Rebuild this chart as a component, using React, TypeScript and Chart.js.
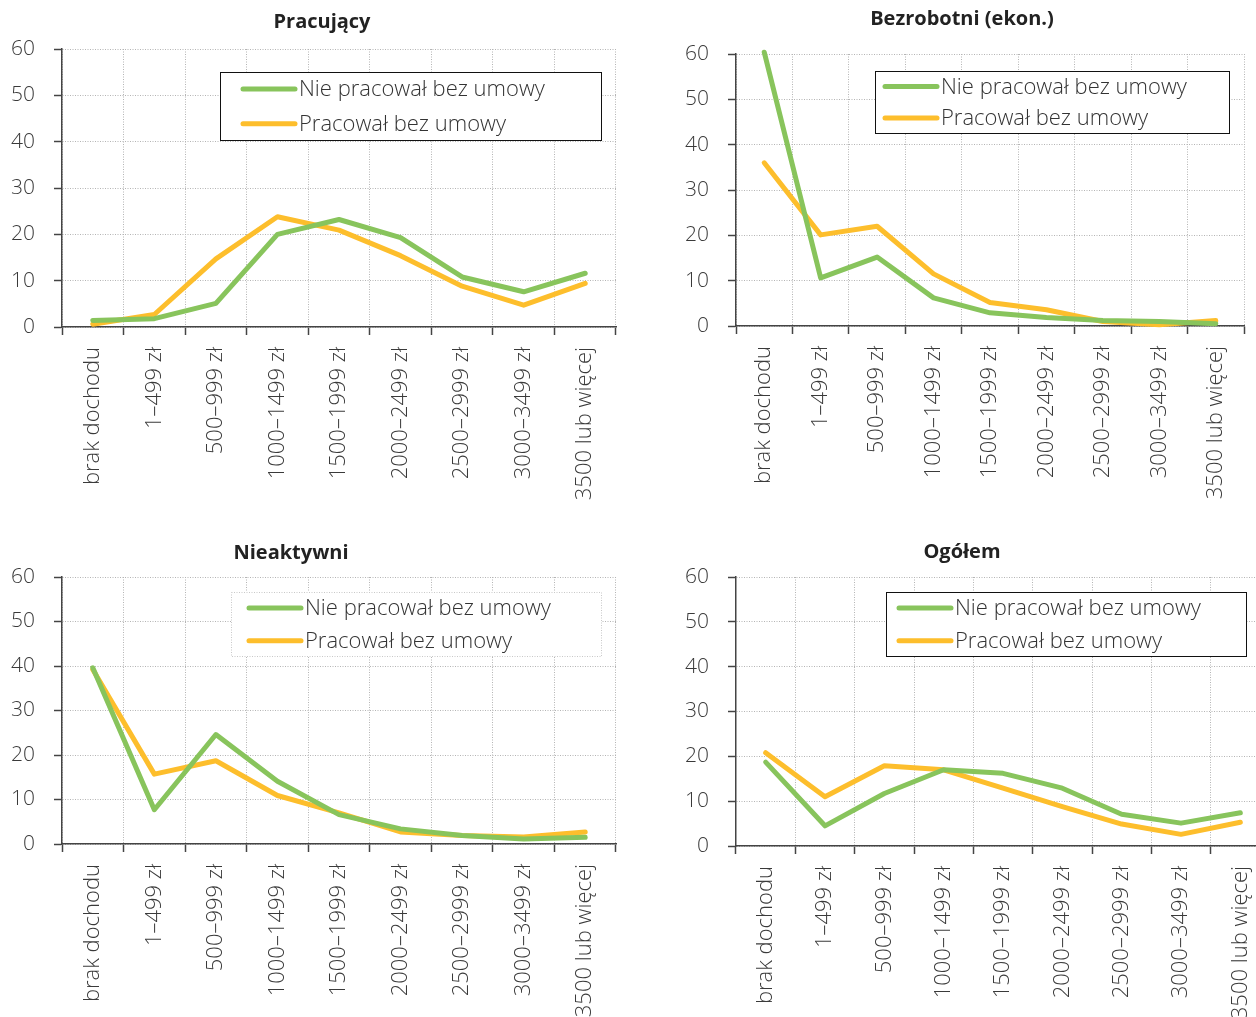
import React, { useEffect, useRef } from 'react';
import { Chart, registerables } from 'chart.js';

Chart.register(...registerables);

const categories = [
  'brak dochodu',
  '1–499 zł',
  '500–999 zł',
  '1000–1499 zł',
  '1500–1999 zł',
  '2000–2499 zł',
  '2500–2999 zł',
  '3000–3499 zł',
  '3500 lub więcej',
];
const seriesLabels = ['Nie pracował bez umowy', 'Pracował bez umowy'];
const seriesColors = ['#88C45C', '#FDBE2C'];
const yMin = 0;
const yMax = 60;
const yStep = 10;

const pracujacyNie = [1.4, 1.8, 5.1, 20.0, 23.2, 19.3, 10.8, 7.6, 11.6];
const pracujacyTak = [0.6, 2.7, 14.7, 23.8, 20.9, 15.4, 8.8, 4.7, 9.4];
const bezrobotniNie = [60.4, 10.6, 15.2, 6.2, 2.9, 1.9, 1.2, 1.0, 0.5];
const bezrobotniTak = [36.0, 20.1, 22.0, 11.5, 5.2, 3.6, 1.0, 0.3, 1.2];
const nieaktywniNie = [39.6, 7.7, 24.6, 14.1, 6.6, 3.4, 1.9, 1.1, 1.5];
const nieaktywniTak = [39.2, 15.7, 18.7, 10.9, 7.0, 2.7, 1.9, 1.6, 2.7];
const ogolemNie = [18.7, 4.5, 11.7, 17.0, 16.2, 12.9, 7.1, 5.1, 7.4];
const ogolemTak = [20.8, 11.0, 17.9, 17.0, 12.9, 8.8, 4.9, 2.6, 5.3];

const FONT = '"Open Sans", "Noto Sans", sans-serif';

type LegendCfg = { x: number; y: number; w: number; h: number; pad: number; dotted: boolean };
type PanelCfg = {
  title: string;
  nie: number[];
  tak: number[];
  left: number;
  top: number;
  width: number;
  height: number;
  axisLeft: number;
  plotTop: number;
  plotBottom: number;
  plotRight: number;
  titleX: number;
  titleY: number;
  legend: LegendCfg;
};

const panels: PanelCfg[] = [
  {
    title: 'Pracujący', nie: pracujacyNie, tak: pracujacyTak,
    left: 0, top: 0, width: 628, height: 515,
    axisLeft: 62, plotTop: 49, plotBottom: 327, plotRight: 616,
    titleX: 322, titleY: 22,
    legend: { x: 220, y: 72, w: 381, h: 68, pad: 21, dotted: false },
  },
  {
    title: 'Bezrobotni (ekon.)', nie: bezrobotniNie, tak: bezrobotniTak,
    left: 628, top: 0, width: 628, height: 515,
    axisLeft: 108, plotTop: 54, plotBottom: 326, plotRight: 616,
    titleX: 334, titleY: 19,
    legend: { x: 247, y: 71, w: 354, h: 62, pad: 8, dotted: false },
  },
  {
    title: 'Nieaktywni', nie: nieaktywniNie, tak: nieaktywniTak,
    left: 0, top: 530, width: 628, height: 487,
    axisLeft: 62, plotTop: 47, plotBottom: 314, plotRight: 616,
    titleX: 291, titleY: 23,
    legend: { x: 231, y: 62, w: 370, h: 64, pad: 16, dotted: true },
  },
  {
    title: 'Ogółem', nie: ogolemNie, tak: ogolemTak,
    left: 628, top: 530, width: 660, height: 487,
    axisLeft: 108, plotTop: 47, plotBottom: 316, plotRight: 642,
    titleX: 334, titleY: 22,
    legend: { x: 258, y: 62, w: 360, h: 64, pad: 11, dotted: false },
  },
];

const decorPlugin = {
  id: 'panelDecor',
  afterDraw(chart: any, _args: any, opts: any) {
    const ctx = chart.ctx as CanvasRenderingContext2D;
    ctx.save();
    // title
    ctx.fillStyle = '#222';
    ctx.font = `bold 20px ${FONT}`;
    ctx.textAlign = 'center';
    ctx.textBaseline = 'middle';
    ctx.fillText(opts.title, opts.titleX, opts.titleY);
    // legend
    const lg: LegendCfg = opts.legend;
    ctx.fillStyle = '#ffffff';
    ctx.fillRect(lg.x, lg.y, lg.w, lg.h);
    ctx.lineWidth = 1;
    if (lg.dotted) {
      ctx.strokeStyle = '#c8c8c8';
      ctx.setLineDash([1, 1.5]);
    } else {
      ctx.strokeStyle = '#111';
      ctx.setLineDash([]);
    }
    ctx.strokeRect(lg.x + 0.5, lg.y + 0.5, lg.w, lg.h);
    ctx.setLineDash([]);
    const rows = [lg.y + lg.h * 0.25, lg.y + lg.h * 0.76];
    chart.data.datasets.forEach((ds: any, i: number) => {
      const yy = rows[i];
      const x1 = lg.x + lg.pad + 2;
      const x2 = x1 + 52;
      ctx.strokeStyle = ds.borderColor;
      ctx.lineWidth = 5;
      ctx.lineCap = 'round';
      ctx.beginPath();
      ctx.moveTo(x1, yy);
      ctx.lineTo(x2, yy);
      ctx.stroke();
      ctx.fillStyle = '#333';
      ctx.font = `300 22px ${FONT}`;
      ctx.textAlign = 'left';
      ctx.textBaseline = 'middle';
      ctx.fillText(ds.label, x2 + 4, yy + 1);
    });
    ctx.restore();
  },
};

function Panel({ cfg }: { cfg: PanelCfg }) {
  const ref = useRef<HTMLCanvasElement | null>(null);
  useEffect(() => {
    if (!ref.current) return;
    const chart = new Chart(ref.current, {
      type: 'line',
      data: {
        labels: categories,
        datasets: [
          {
            label: seriesLabels[0], data: cfg.nie, borderColor: seriesColors[0],
            backgroundColor: seriesColors[0], borderWidth: 5, pointRadius: 0,
            tension: 0, clip: false as any, borderCapStyle: 'round', borderJoinStyle: 'round',
          },
          {
            label: seriesLabels[1], data: cfg.tak, borderColor: seriesColors[1],
            backgroundColor: seriesColors[1], borderWidth: 5, pointRadius: 0,
            tension: 0, clip: false as any, borderCapStyle: 'round', borderJoinStyle: 'round',
          },
        ],
      },
      options: {
        responsive: false,
        animation: false,
        devicePixelRatio: 1,
        layout: {
          padding: { left: 0, top: cfg.plotTop, right: cfg.width - cfg.plotRight, bottom: 0 },
        },
        plugins: {
          legend: { display: false },
          title: { display: false },
          tooltip: { enabled: false },
          panelDecor: {
            title: cfg.title, titleX: cfg.titleX, titleY: cfg.titleY, legend: cfg.legend,
          },
        } as any,
        scales: {
          x: {
            type: 'category',
            offset: true,
            grid: {
              offset: true,
              color: '#b4b4b4',
              lineWidth: 1,
              drawTicks: true,
              tickLength: 8,
              tickColor: '#444',
              tickWidth: 1.5,
              tickBorderDash: [],
            } as any,
            border: { display: true, color: '#444', width: 1.5, dash: [1, 1.5] } as any,
            ticks: {
              minRotation: 90,
              maxRotation: 90,
              autoSkip: false,
              padding: 12,
              color: '#3a3a3a',
              font: { family: FONT, size: 22, weight: '300' },
            },
            afterFit: (scale: any) => {
              scale.height = cfg.height - cfg.plotBottom;
            },
          },
          y: {
            min: yMin,
            max: yMax,
            grid: {
              color: '#b4b4b4',
              lineWidth: 1,
              drawTicks: true,
              tickLength: 8,
              tickColor: '#444',
              tickWidth: 1.5,
              tickBorderDash: [],
            } as any,
            border: { display: true, color: '#444', width: 1.5, dash: [1, 1.5] } as any,
            ticks: {
              stepSize: yStep,
              padding: 19,
              color: '#3a3a3a',
              font: { family: FONT, size: 21, weight: '300' },
            },
            afterFit: (scale: any) => {
              scale.width = cfg.axisLeft;
            },
          },
        },
      },
      plugins: [decorPlugin],
    } as any);
    return () => chart.destroy();
  }, [cfg]);
  return (
    <canvas
      ref={ref}
      width={cfg.width}
      height={cfg.height}
      style={{ position: 'absolute', left: cfg.left, top: cfg.top, width: cfg.width, height: cfg.height }}
    />
  );
}

export default function App() {
  return (
    <div
      style={{
        position: 'fixed', left: 0, top: 0, width: 1256, height: 1017,
        overflow: 'hidden', background: '#ffffff',
      }}
    >
      {panels.map((p) => (
        <Panel key={p.title} cfg={p} />
      ))}
    </div>
  );
}
